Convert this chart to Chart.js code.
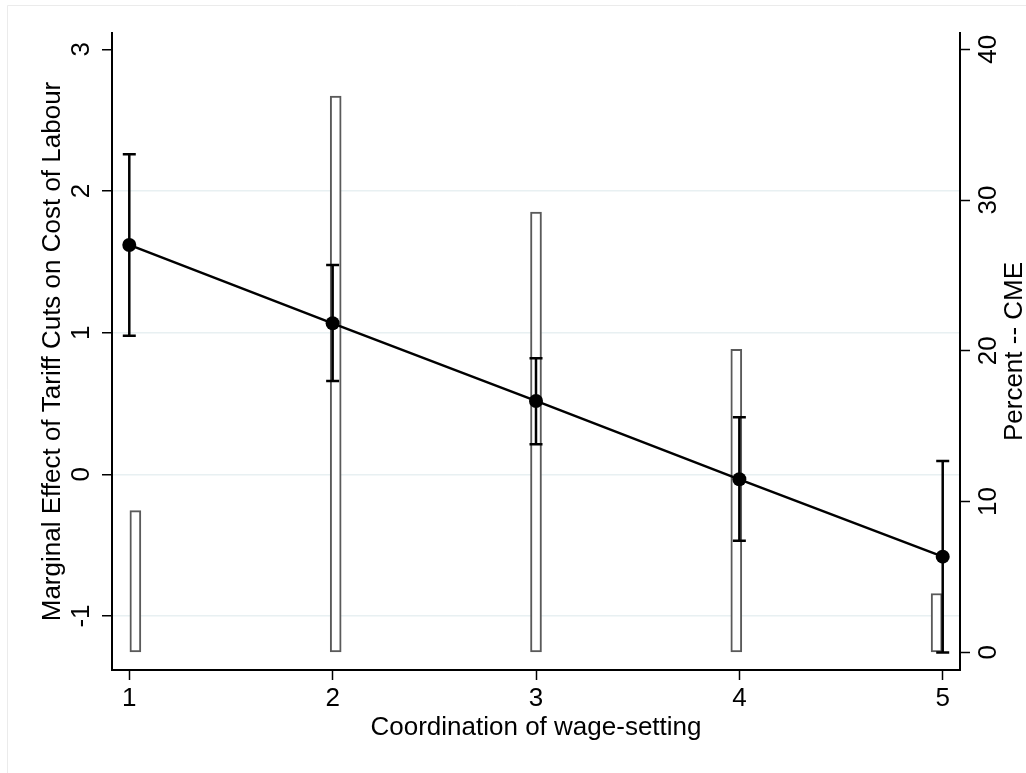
<!DOCTYPE html>
<html>
<head>
<meta charset="utf-8">
<script src="https://cdn.jsdelivr.net/npm/chart.js@4"></script>
<style>
html, body { margin: 0; padding: 0; background: #fff; }
canvas { display: block; }
</style>
</head>
<body>
<canvas id="graphic" width="1026" height="773"></canvas>
<script>
var coordination = [1, 2, 3, 4, 5];
var marginalEffect = [1.619, 1.066, 0.518, -0.035, -0.581];
var ciLower = [0.979, 0.659, 0.212, -0.468, -1.257];
var ciUpper = [2.259, 1.478, 0.819, 0.403, 0.095];
var binCenters = [1.030, 2.015, 3.000, 3.985, 4.970];
var percentCME = [9.4, 36.9, 29.2, 20.1, 3.9];
var xTicks = [1, 2, 3, 4, 5];
var effectTicks = [-1, 0, 1, 2, 3];
var percentTicks = [0, 10, 20, 30, 40];

var fontFamily = "'Liberation Sans', Arial, sans-serif";
var fontSize = 26;

function setTicks(list) {
    return function (scale) {
        scale.ticks = list.map(function (v) { return { value: v }; });
    };
}

function rotatedText(c, text, x, y) {
    c.save();
    c.translate(x, y);
    c.rotate(-Math.PI / 2);
    c.fillText(text, 0, 0);
    c.restore();
}

// light outer frame of the graph region
var frame = {
    id: 'frame',
    beforeDraw: function (chart) {
        var c = chart.ctx;
        c.save();
        c.fillStyle = '#fff';
        c.fillRect(0, 0, chart.width, chart.height);
        c.strokeStyle = '#ebebeb';
        c.lineWidth = 1;
        c.beginPath();
        c.moveTo(7.5, chart.height);
        c.lineTo(7.5, 5.5);
        c.lineTo(chart.width, 5.5);
        c.stroke();
        c.restore();
    }
};

// confidence intervals, drawn after the bars and before the line
var errorBars = {
    id: 'errorBars',
    afterDatasetDraw: function (chart, args) {
        if (args.index !== 0) return;
        var xs = chart.scales.x, ys = chart.scales.y, c = chart.ctx;
        c.save();
        c.strokeStyle = '#000';
        c.lineWidth = 2.5;
        for (var i = 0; i < coordination.length; i++) {
            var px = xs.getPixelForValue(coordination[i]);
            var lo = ys.getPixelForValue(ciLower[i]);
            var hi = ys.getPixelForValue(ciUpper[i]);
            c.beginPath();
            c.moveTo(px, lo); c.lineTo(px, hi);
            c.moveTo(px - 6.5, lo); c.lineTo(px + 6.5, lo);
            c.moveTo(px - 6.5, hi); c.lineTo(px + 6.5, hi);
            c.stroke();
        }
        c.restore();
    }
};

// rotated y tick labels and titles (both read bottom to top)
var yLabels = {
    id: 'yLabels',
    afterDraw: function (chart) {
        var c = chart.ctx, area = chart.chartArea;
        var ys = chart.scales.y, y1 = chart.scales.y1;
        var mid = (area.top + area.bottom) / 2;
        c.save();
        c.fillStyle = '#000';
        c.font = fontSize + 'px ' + fontFamily;
        c.textAlign = 'center';
        c.textBaseline = 'alphabetic';
        effectTicks.forEach(function (v) {
            rotatedText(c, String(v), 89, ys.getPixelForValue(v));
        });
        percentTicks.forEach(function (v) {
            rotatedText(c, String(v), 996, y1.getPixelForValue(v));
        });
        rotatedText(c, 'Marginal Effect of Tariff Cuts on Cost of Labour', 60, mid);
        rotatedText(c, 'Percent -- CME', 1022, mid);
        c.restore();
    }
};

var ctx = document.getElementById('graphic').getContext('2d');

var graphic = new Chart(ctx, {
    data: {
        datasets: [{
            type: 'bar',
            data: binCenters.map(function (x, i) { return { x: x, y: percentCME[i] }; }),
            xAxisID: 'x',
            yAxisID: 'y1',
            order: 2,
            barThickness: 11,
            backgroundColor: '#fff',
            borderColor: '#5a5a5a',
            borderWidth: 2,
            borderSkipped: false
        }, {
            type: 'line',
            data: coordination.map(function (x, i) { return { x: x, y: marginalEffect[i] }; }),
            xAxisID: 'x',
            yAxisID: 'y',
            order: 1,
            borderColor: '#000',
            borderWidth: 2.5,
            tension: 0,
            pointRadius: 7,
            pointBackgroundColor: '#000',
            pointBorderWidth: 0
        }]
    },
    options: {
        responsive: false,
        animation: false,
        layout: { padding: { top: 33 } },
        plugins: {
            legend: { display: false },
            tooltip: { enabled: false }
        },
        scales: {
            x: {
                type: 'linear',
                position: 'bottom',
                offset: false,
                min: 0.915,
                max: 5.085,
                afterBuildTicks: setTicks(xTicks),
                afterFit: function (s) { s.height = 103; },
                grid: { offset: false, drawOnChartArea: false, tickLength: 10, tickColor: '#000', tickWidth: 1.5 },
                border: { color: '#000', width: 2 },
                ticks: { color: '#000', padding: 3, maxRotation: 0, font: { family: fontFamily, size: fontSize } },
                title: {
                    display: true,
                    text: 'Coordination of wage-setting',
                    color: '#000',
                    font: { family: fontFamily, size: fontSize },
                    padding: { top: 0, bottom: 30 }
                }
            },
            y: {
                type: 'linear',
                position: 'left',
                min: -1.381,
                max: 3.115,
                afterBuildTicks: setTicks(effectTicks),
                afterFit: function (s) { s.width = 112; },
                grid: {
                    color: function (c) { return c.tick && c.tick.value === 3 ? 'rgba(0,0,0,0)' : '#e8f0f2'; },
                    lineWidth: 1.5,
                    tickLength: 10,
                    tickColor: '#000',
                    tickWidth: 1.5
                },
                border: { color: '#000', width: 2 },
                ticks: { display: false }
            },
            y1: {
                type: 'linear',
                position: 'right',
                min: -1.174,
                max: 41.08,
                afterBuildTicks: setTicks(percentTicks),
                afterFit: function (s) { s.width = 66; },
                grid: { drawOnChartArea: false, tickLength: 10, tickColor: '#000', tickWidth: 1.5 },
                border: { color: '#000', width: 2 },
                ticks: { display: false }
            }
        }
    },
    plugins: [frame, errorBars, yLabels]
});
</script>
</body>
</html>
